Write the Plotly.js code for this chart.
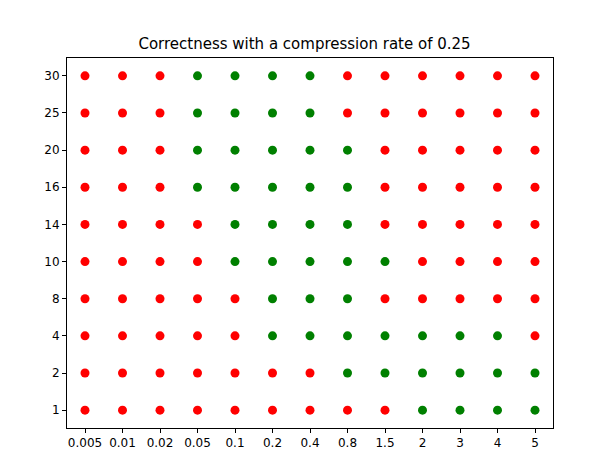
<!DOCTYPE html>
<html>
<head>
<script src="https://cdn.plot.ly/plotly-3.0.1.min.js"></script>
<style>body{margin:0}</style>
</head>
<body>
<div id="plot" style="width:609px;height:474px"></div>
<script>
const xLabels = ['0.005', '0.01', '0.02', '0.05', '0.1', '0.2', '0.4', '0.8', '1.5', '2', '3', '4', '5'];
const yLabels = ['1', '2', '4', '8', '10', '14', '16', '20', '25', '30'];

// 1 = correct (green), 0 = incorrect (red); rows follow yLabels
const correct = [
    [0, 0, 0, 0, 0, 0, 0, 0, 0, 1, 1, 1, 1],
    [0, 0, 0, 0, 0, 0, 0, 1, 1, 1, 1, 1, 1],
    [0, 0, 0, 0, 0, 1, 1, 1, 1, 1, 1, 1, 0],
    [0, 0, 0, 0, 0, 1, 1, 1, 0, 0, 0, 0, 0],
    [0, 0, 0, 0, 1, 1, 1, 1, 1, 0, 0, 0, 0],
    [0, 0, 0, 0, 1, 1, 1, 1, 0, 0, 0, 0, 0],
    [0, 0, 0, 1, 1, 1, 1, 1, 0, 0, 0, 0, 0],
    [0, 0, 0, 1, 1, 1, 1, 1, 0, 0, 0, 0, 0],
    [0, 0, 0, 1, 1, 1, 1, 0, 0, 0, 0, 0, 0],
    [0, 0, 0, 1, 1, 1, 1, 0, 0, 0, 0, 0, 0]
];

const x = [];
const y = [];
const colors = [];
correct.forEach((row, i) => {
    row.forEach((c, j) => {
        x.push(xLabels[j]);
        y.push(yLabels[i]);
        colors.push(c ? 'green' : 'red');
    });
});

const trace = {
    x, y,
    mode: 'markers',
    type: 'scatter',
    marker: {color: colors, size: 9}
};

const axis = {
    type: 'category',
    showgrid: false,
    zeroline: false,
    showline: true,
    mirror: true,
    linecolor: 'black',
    linewidth: 1,
    ticks: 'outside',
    ticklen: 4,
    tickcolor: 'black',
    tickfont: {family: 'DejaVu Sans', size: 12, color: 'black'}
};

const layout = {
    width: 609,
    height: 474,
    margin: {l: 67, r: 56, t: 58, b: 46},
    showlegend: false,
    plot_bgcolor: 'white',
    paper_bgcolor: 'white',
    title: {text: 'Correctness with a compression rate of 0.25', x: 0.5, xanchor: 'center', y: 0.907, yanchor: 'middle',
        font: {family: 'DejaVu Sans', size: 15, color: 'black'}},
    xaxis: Object.assign({}, axis, {range: [-0.48, 12.48], categoryarray: xLabels, categoryorder: 'array'}),
    yaxis: Object.assign({}, axis, {range: [-0.48, 9.48], categoryarray: yLabels, categoryorder: 'array'})
};

Plotly.newPlot('plot', [trace], layout, {displayModeBar: false});
</script>
</body>
</html>
